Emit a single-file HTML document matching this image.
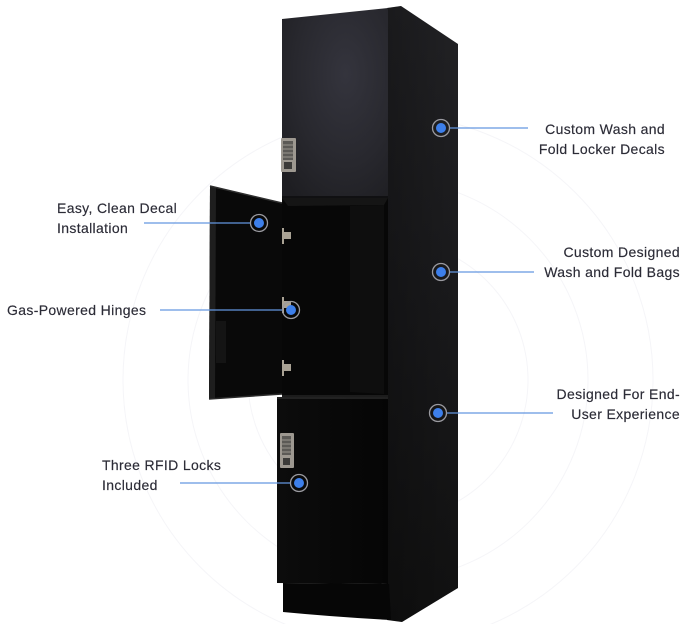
<!DOCTYPE html>
<html>
<head>
<meta charset="utf-8">
<style>
  html,body{margin:0;padding:0;background:#fff;width:696px;height:624px;overflow:hidden;}
  svg{display:block;overflow:hidden;}
  .lbl{font-family:"Liberation Sans",Arial,sans-serif;font-size:14px;fill:#2b2b36;letter-spacing:0.35px;stroke:#2b2b36;stroke-width:0.15;}
</style>
</head>
<body>
<svg width="696" height="624" viewBox="0 0 696 624" xmlns="http://www.w3.org/2000/svg">
  <defs>
    <clipPath id="frame"><rect x="0" y="0" width="696" height="624"/></clipPath>
    <linearGradient id="side" x1="0" y1="0" x2="0" y2="1">
      <stop offset="0" stop-color="#222225"/>
      <stop offset="0.5" stop-color="#19191b"/>
      <stop offset="1" stop-color="#111111"/>
    </linearGradient>
    <linearGradient id="sideh" x1="0" y1="0" x2="1" y2="0">
      <stop offset="0" stop-color="#000" stop-opacity="0.25"/>
      <stop offset="1" stop-color="#000" stop-opacity="0"/>
    </linearGradient>
    <radialGradient id="topdoor" cx="0.6" cy="0.35" r="0.8">
      <stop offset="0" stop-color="#34343d"/>
      <stop offset="0.6" stop-color="#28282e"/>
      <stop offset="1" stop-color="#1e1e22"/>
    </radialGradient>
    <linearGradient id="bot" x1="0" y1="0" x2="1" y2="0">
      <stop offset="0" stop-color="#0c0c0c"/>
      <stop offset="1" stop-color="#050505"/>
    </linearGradient>
  </defs>

  <g clip-path="url(#frame)">
  <rect width="696" height="624" fill="#ffffff"/>
  <!-- faint background circles -->
  <g fill="none" stroke="#f5f5f8" stroke-width="1">
    <circle cx="388" cy="380" r="265"/>
    <circle cx="388" cy="380" r="200"/>
    <circle cx="388" cy="380" r="140"/>
  </g>

  <!-- side face -->
  <path d="M387,8 L401,6 L458,44 L458,588 L402,622 L387,620 Z" fill="url(#side)"/>
  <path d="M387,8 L401,6 L458,44 L458,588 L402,622 L387,620 Z" fill="url(#sideh)"/>

  <!-- top door -->
  <path d="M282,19 L388,8 L388,197 L282,197 Z" fill="url(#topdoor)"/>
  <line x1="282" y1="197" x2="388" y2="197" stroke="#101012" stroke-width="2"/>

  <!-- upper lock -->
  <rect x="281" y="138" width="15" height="34" rx="1" fill="#9d9890"/>
  <rect x="283" y="141" width="10" height="19" fill="#5c5a56"/>
  <g stroke="#aaa69e" stroke-width="0.8">
    <line x1="283" y1="145" x2="293" y2="145"/>
    <line x1="283" y1="149" x2="293" y2="149"/>
    <line x1="283" y1="153" x2="293" y2="153"/>
    <line x1="283" y1="157" x2="293" y2="157"/>
  </g>
  <rect x="284" y="162" width="8" height="7" fill="#3c3b39"/>

  <!-- open compartment -->
  <rect x="282" y="198" width="106" height="199" fill="#070707"/>
  <path d="M282,198 L388,198 L384,205 L288,206 Z" fill="#151515"/>
  <path d="M350,206 L384,205 L384,394 L350,392 Z" fill="#0e0e0e"/>
  <line x1="282" y1="396" x2="388" y2="396" stroke="#1c1c1c" stroke-width="2"/>

  <!-- hinges -->
  <g fill="#a9a294">
    <rect x="280" y="228" width="4" height="16"/>
    <rect x="284" y="232" width="7" height="7"/>
    <rect x="280" y="297" width="4" height="16"/>
    <rect x="284" y="301" width="7" height="7"/>
    <rect x="280" y="360" width="4" height="16"/>
    <rect x="284" y="364" width="7" height="7"/>
  </g>

  <!-- open door -->
  <path d="M210,186 L282,203 L282,394 L209,399 Z" fill="#090909"/>
  <path d="M210,186 L216,188 L215,398 L209,399 Z" fill="#1e1e1e"/>
  <path d="M210,186 L282,203" stroke="#2e2e2e" stroke-width="1.5"/>
  <path d="M209,399 L282,394" stroke="#2a2a2a" stroke-width="1.5"/>
  <rect x="216" y="321" width="10" height="42" fill="#141414"/>

  <!-- bottom door -->
  <path d="M277,397 L388,397 L388,584 L277,583 Z" fill="url(#bot)"/>
  <line x1="277" y1="398" x2="388" y2="398" stroke="#2a2a2a" stroke-width="1.5"/>
  <!-- plinth -->
  <path d="M283,583 L389,584 L391,620 Q335,617 283,612 Z" fill="#060606"/>

  <!-- lower lock -->
  <rect x="280" y="433" width="14" height="35" rx="1" fill="#9d9890"/>
  <rect x="282" y="436" width="9" height="19" fill="#5c5a56"/>
  <g stroke="#aaa69e" stroke-width="0.8">
    <line x1="282" y1="440" x2="291" y2="440"/>
    <line x1="282" y1="444" x2="291" y2="444"/>
    <line x1="282" y1="448" x2="291" y2="448"/>
    <line x1="282" y1="452" x2="291" y2="452"/>
  </g>
  <rect x="283" y="458" width="7" height="7" fill="#3c3b39"/>

  <!-- connector lines -->
  <g stroke="#6396e0" stroke-width="1.3">
    <line x1="449" y1="128" x2="528" y2="128"/>
    <line x1="144" y1="223" x2="251" y2="223"/>
    <line x1="160" y1="310" x2="283" y2="310"/>
    <line x1="449" y1="272" x2="534" y2="272"/>
    <line x1="446" y1="413" x2="553" y2="413"/>
    <line x1="180" y1="483" x2="291" y2="483"/>
  </g>

  <!-- dots -->
  <g>
    <g transform="translate(441,128)"><circle r="8.5" fill="none" stroke="#9a9aa0" stroke-width="1.3"/><circle r="5" fill="#3d7fea"/></g>
    <g transform="translate(259,223)"><circle r="8.5" fill="none" stroke="#9a9aa0" stroke-width="1.3"/><circle r="5" fill="#3d7fea"/></g>
    <g transform="translate(291,310)"><circle r="8.5" fill="none" stroke="#9a9aa0" stroke-width="1.3"/><circle r="5" fill="#3d7fea"/></g>
    <g transform="translate(441,272)"><circle r="8.5" fill="none" stroke="#9a9aa0" stroke-width="1.3"/><circle r="5" fill="#3d7fea"/></g>
    <g transform="translate(438,413)"><circle r="8.5" fill="none" stroke="#9a9aa0" stroke-width="1.3"/><circle r="5" fill="#3d7fea"/></g>
    <g transform="translate(299,483)"><circle r="8.5" fill="none" stroke="#9a9aa0" stroke-width="1.3"/><circle r="5" fill="#3d7fea"/></g>
  </g>

  <!-- labels -->
  <text class="lbl" x="57" y="213">Easy, Clean Decal</text>
  <text class="lbl" x="57" y="233">Installation</text>
  <text class="lbl" x="7" y="315">Gas-Powered Hinges</text>
  <text class="lbl" x="102" y="470">Three RFID Locks</text>
  <text class="lbl" x="102" y="490">Included</text>

  <text class="lbl" x="665" y="134" text-anchor="end">Custom Wash and</text>
  <text class="lbl" x="665" y="154" text-anchor="end">Fold Locker Decals</text>
  <text class="lbl" x="680" y="257" text-anchor="end">Custom Designed</text>
  <text class="lbl" x="680" y="277" text-anchor="end">Wash and Fold Bags</text>
  <text class="lbl" x="680" y="399" text-anchor="end">Designed For End-</text>
  <text class="lbl" x="680" y="419" text-anchor="end">User Experience</text>
  </g>
</svg>
</body>
</html>
